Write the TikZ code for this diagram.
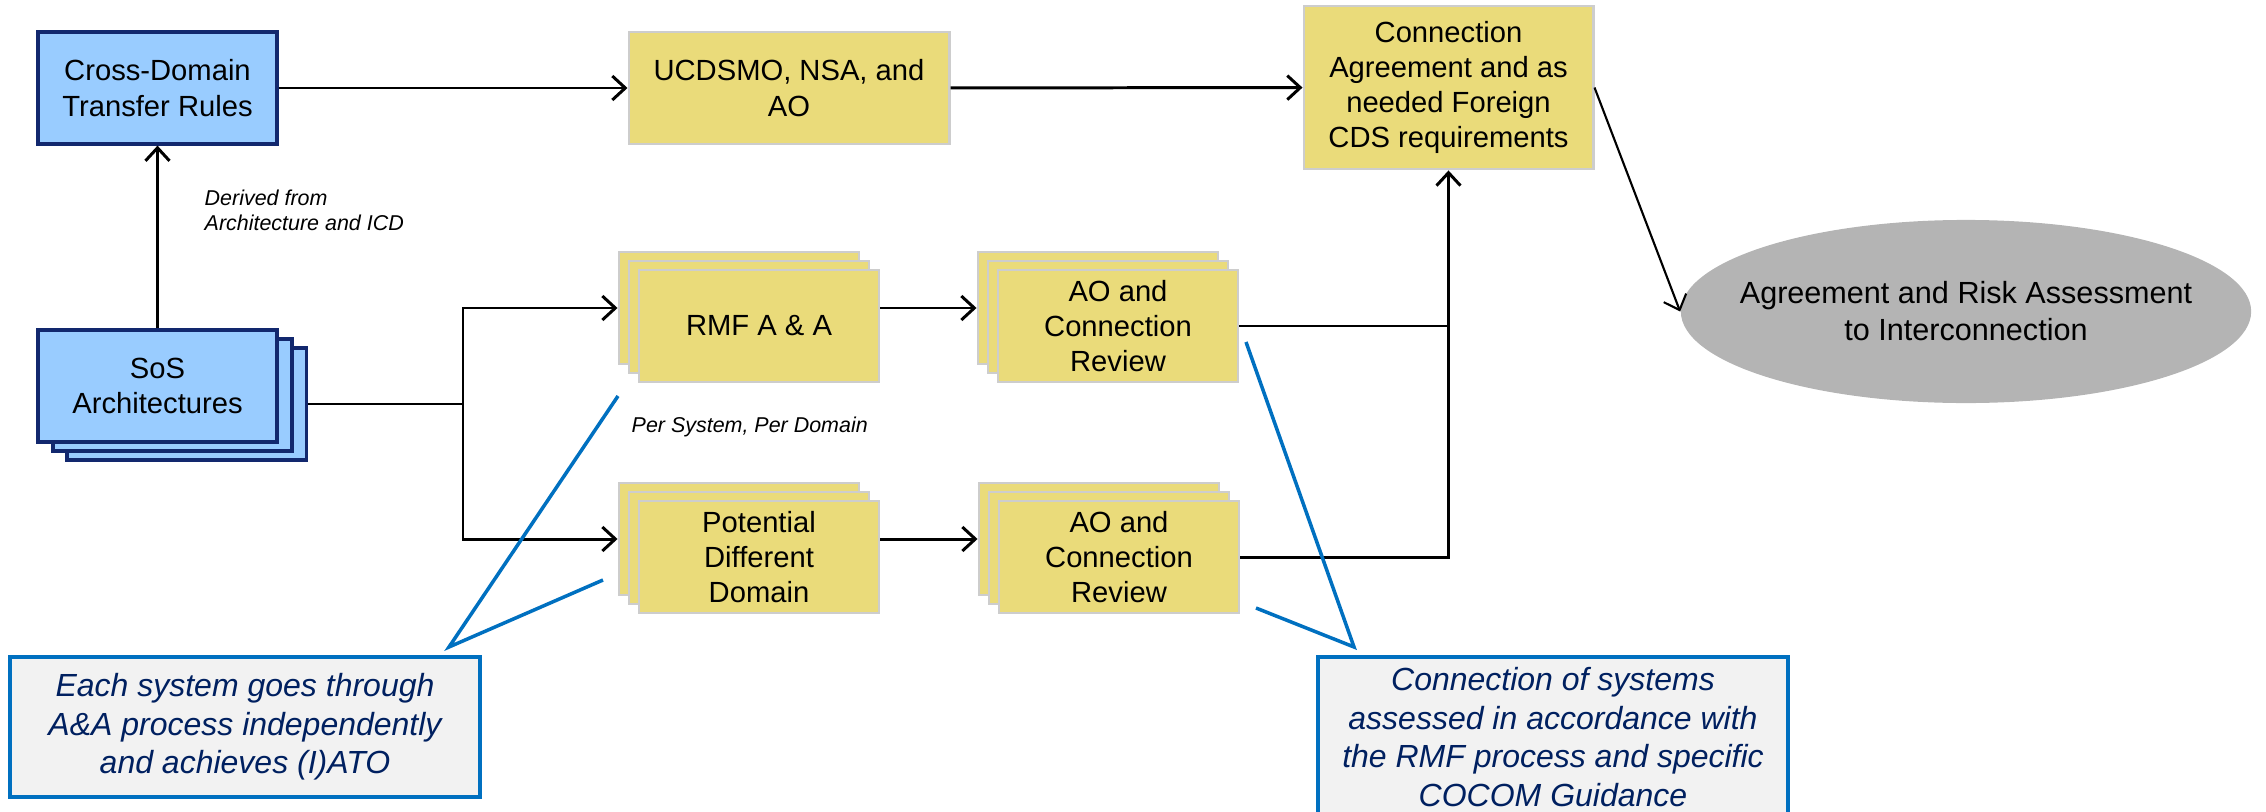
\documentclass[tikz,border=0pt]{standalone}
\usepackage{fontspec}
\setmainfont{Liberation Sans}
\usetikzlibrary{arrows.meta,shadows,shapes.geometric,calc}

\definecolor{sosblue}{RGB}{153,204,255}
\definecolor{sosnavy}{RGB}{18,40,110}
\definecolor{yelfill}{RGB}{234,219,122}
\definecolor{yelline}{RGB}{205,205,205}
\definecolor{goalgray}{RGB}{180,180,180}
\definecolor{noteblue}{RGB}{0,112,192}
\definecolor{notefill}{RGB}{242,242,242}
\definecolor{notetext}{RGB}{0,32,96}

\newcommand\cdsboxfont{\fontsize{8.3}{10}\selectfont}
\newcommand\cdsgoalfont{\fontsize{8.7}{10.5}\selectfont}
\newcommand\cdsnotefont{\fontsize{9.1}{10.95}\selectfont\itshape}
\newcommand\cdsremarkfont{\fontsize{6.1}{7.1}\selectfont\itshape}

\begin{document}
\begin{tikzpicture}[x=0.01cm,y=-0.01cm,>={Straight Barb[length=1.3mm,width=2.4mm]},
	flow/.style={->,line width=0.85pt},
	link/.style={line width=0.85pt},
	bluebox/.style={draw=sosnavy,fill=sosblue,line width=0.9pt,minimum width=2.39cm,minimum height=1.12cm,inner sep=0pt,align=center,font=\cdsboxfont},
	yelbox/.style={draw=yelline,fill=yelfill,line width=0.8pt,minimum width=2.4cm,minimum height=1.12cm,inner sep=0pt,align=center,font=\cdsboxfont},
	yelstack/.style={yelbox,copy shadow={shadow xshift=-2mm,shadow yshift=1.8mm},copy shadow={shadow xshift=-1mm,shadow yshift=0.9mm}},
	sosstack/.style={bluebox,copy shadow={shadow xshift=2.9mm,shadow yshift=-1.8mm},copy shadow={shadow xshift=1.5mm,shadow yshift=-0.9mm}},
	goalshape/.style={ellipse,fill=goalgray,minimum width=5.7cm,minimum height=1.83cm,inner sep=0pt},
	note/.style={draw=noteblue,fill=notefill,line width=1pt,text=notetext,align=center,inner sep=0pt,font=\cdsnotefont},
	callout/.style={draw=noteblue,line width=1pt},
	remark/.style={anchor=west,align=left,inner sep=0pt,font=\cdsremarkfont}]
	\useasboundingbox (0,0) rectangle (2266,812);

	\node[bluebox] (cdt) at (157.5,88) {Cross-Domain\\Transfer Rules};
	\node[sosstack] (sos) at (157.5,386) {SoS\\Architectures};
	\node[yelbox,minimum width=3.2cm] (ucd) at (789,88) {UCDSMO, NSA, and\\AO};
	\node[yelbox,minimum width=2.89cm,minimum height=1.63cm] (cag) at (1448.5,87.5) {Connection\\Agreement and as\\needed Foreign\\CDS requirements};

	\node[yelstack] (rmf) at (759,326) {RMF A \& A};
	\node[yelstack] (ao1) at (1118,326) {AO and\\Connection\\Review};
	\node[yelstack] (pdd) at (759,557) {Potential\\Different\\Domain};
	\node[yelstack] (ao2) at (1119,557) {AO and\\Connection\\Review};

	\node[goalshape] (goal) at (1966,311.5) {};
	\node[align=center,font=\cdsgoalfont] (goaltext) at (goal.center) {Agreement and Risk Assessment\\to Interconnection};

	\node[remark] (derived) at (204,210) {Derived from\\Architecture and ICD};
	\node[remark] (persys) at (631,427) {Per System, Per Domain};

	\node[note,minimum width=4.7cm,minimum height=1.4cm] (note1) at (245,727) {Each system goes through\\A\&A process independently\\and achieves (I)ATO};
	\node[note,minimum width=4.7cm,minimum height=1.6cm] (note2) at (1553,737) {Connection of systems\\assessed in accordance with\\the RMF process and specific\\COCOM Guidance};

	% entry and exit points on the stacked boxes
	\coordinate (sosout) at ($(sos.east)+(29,18)$);
	\coordinate (split) at (463,404);
	\coordinate (rmfin) at ($(rmf.west)+(-20,-18)$);
	\coordinate (pddin) at ($(pdd.west)+(-20,-18)$);
	\coordinate (ao1in) at ($(ao1.west)+(-20,-18)$);
	\coordinate (ao2in) at ($(ao2.west)+(-20,-18)$);

	\draw[flow] (cdt) -- (ucd);
	\draw[flow] (ucd) -- (cag);
	\draw[flow] (sos) -- (cdt);
	\draw[link] (sosout) -- (split);
	\draw[flow] (split) |- (rmfin);
	\draw[flow] (split) |- (pddin);
	\draw[flow] (rmf.east |- rmfin) -- (ao1in);
	\draw[flow] (pdd.east |- pddin) -- (ao2in);
	\draw[link] (ao1.east) -- (ao1.east -| cag.south);
	\draw[flow] (ao2.east) -| (cag.south);
	\draw[flow,line width=0.6pt] (cag.east) -- (goal.west);

	\coordinate (n1a) at (618,396);
	\coordinate (n1tip) at (449,647);
	\coordinate (n1b) at (603,580);
	\coordinate (n2a) at (1246,342);
	\coordinate (n2tip) at (1354,647);
	\coordinate (n2b) at (1256,608);
	\draw[callout] (n1a) -- (n1tip) -- (n1b);
	\draw[callout] (n2a) -- (n2tip) -- (n2b);
\end{tikzpicture}
\end{document}
